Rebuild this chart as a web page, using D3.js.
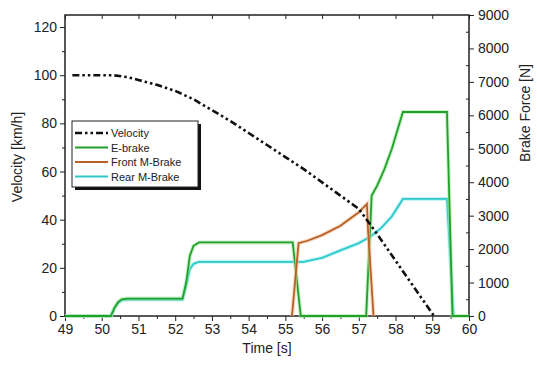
<!DOCTYPE html>
<html>
<head>
<meta charset="utf-8">
<script src="https://cdn.jsdelivr.net/npm/d3@7"></script>
<style>
  body { margin: 0; background: #fff; }
  svg { font-family: "Liberation Sans", Arial, sans-serif; }
  .axis text { fill: #222; font-size: 14px; }
  .axis path, .axis line { stroke: #222; }
</style>
</head>
<body>
<div id="chart"></div>
<script>
// values
const timeTicks = [49, 50, 51, 52, 53, 54, 55, 56, 57, 58, 59, 60];
const velocityTicks = [0, 20, 40, 60, 80, 100, 120];
const forceTicks = [0, 1000, 2000, 3000, 4000, 5000, 6000, 7000, 8000, 9000];

// velocity [km/h] vs time [s]
const velocity = [
  [49.2, 100], [50.3, 100], [50.7, 99.2], [51.0, 98], [51.5, 96], [52.0, 93.5],
  [52.5, 90], [53.0, 85.5], [53.5, 81], [54.0, 76], [54.5, 71], [55.0, 66],
  [55.5, 61], [56.0, 55.5], [56.5, 50], [57.0, 44.5], [57.5, 34], [58.0, 23],
  [58.5, 12], [59.05, 0]
];

// brake forces [N] vs time [s]
const eBrake = [
  [49, 0], [50.25, 0], [50.35, 250], [50.45, 420], [50.55, 500], [50.7, 520],
  [52.2, 520], [52.3, 1000], [52.4, 1800], [52.5, 2100], [52.65, 2200],
  [55.2, 2200], [55.42, 0], [57.2, 0], [57.35, 3600], [57.5, 3900], [57.7, 4400],
  [57.9, 5000], [58.2, 6100], [59.4, 6100], [59.55, 0], [60, 0]
];
const frontBrake = [
  [55.18, 0], [55.36, 2180], [55.6, 2250], [56.0, 2420], [56.5, 2700],
  [57.0, 3100], [57.22, 3350], [57.25, 2600], [57.4, 0]
];
const rearBrake = [
  [49, 0], [50.25, 0], [50.35, 250], [50.45, 400], [50.55, 470], [50.7, 490],
  [52.2, 490], [52.3, 900], [52.4, 1400], [52.5, 1560], [52.65, 1620],
  [55.5, 1620], [56.0, 1740], [56.5, 1960], [57.0, 2180], [57.3, 2360],
  [57.6, 2620], [57.9, 2980], [58.2, 3500], [59.4, 3500], [59.58, 0]
];

const W = 537, H = 368;
const plotL = 65, plotR = 469, plotT = 15, plotB = 316;

const svg = d3.select("#chart").append("svg")
  .attr("width", W).attr("height", H);

const x = d3.scaleLinear().domain([49, 60]).range([plotL, plotR]);
const yV = d3.scaleLinear().domain([0, 125]).range([plotB, plotT]);
const yF = d3.scaleLinear().domain([0, 9000]).range([plotB, plotT]);

// axes
const halfTimes = d3.range(49.5, 60, 1);
svg.append("g").attr("class", "axis")
  .attr("transform", `translate(0,${plotB})`)
  .call(d3.axisBottom(x).tickValues(timeTicks).tickFormat(d3.format("d")).tickSize(5).tickPadding(3));
svg.append("g").attr("class", "axis")
  .attr("transform", `translate(0,${plotB})`)
  .call(d3.axisBottom(x).tickValues(halfTimes).tickFormat("").tickSize(3));
svg.append("g").attr("class", "axis")
  .attr("transform", `translate(0,${plotT})`)
  .call(d3.axisBottom(x).tickValues(timeTicks).tickFormat("").tickSize(4));

svg.append("g").attr("class", "axis")
  .attr("transform", `translate(${plotL},0)`)
  .call(d3.axisLeft(yV).tickValues(velocityTicks).tickFormat(d3.format("d")).tickSize(5).tickPadding(3));
svg.append("g").attr("class", "axis")
  .attr("transform", `translate(${plotL},0)`)
  .call(d3.axisLeft(yV).tickValues(d3.range(10, 125, 20)).tickFormat("").tickSize(3));

svg.append("g").attr("class", "axis")
  .attr("transform", `translate(${plotR},0)`)
  .call(d3.axisRight(yF).tickValues(forceTicks).tickFormat(d3.format("d")).tickSize(5).tickPadding(4));
svg.append("g").attr("class", "axis")
  .attr("transform", `translate(${plotR},0)`)
  .call(d3.axisLeft(yF).tickValues(d3.range(500, 9000, 1000)).tickFormat("").tickSize(3));

svg.selectAll(".axis .domain").remove();

// frame
svg.append("rect")
  .attr("x", plotL).attr("y", plotT)
  .attr("width", plotR - plotL).attr("height", plotB - plotT)
  .attr("fill", "none").attr("stroke", "#222").attr("stroke-width", 1.5);

// lines
const lineF = d3.line().x(d => x(d[0])).y(d => yF(d[1]));
const lineV = d3.line().x(d => x(d[0])).y(d => yV(d[1]));

const forceSeries = [
  { data: rearBrake, color: "#2ec8cc", glow: "#9ff0f0" },
  { data: eBrake, color: "#23a02c", glow: "#a3e8a3" },
  { data: frontBrake, color: "#b8602a", glow: "#f5c49a" }
];
forceSeries.forEach(s => {
  svg.append("path").datum(s.data)
    .attr("d", lineF).attr("fill", "none")
    .attr("stroke", s.glow).attr("stroke-width", 4).attr("opacity", 0.6);
  svg.append("path").datum(s.data)
    .attr("d", lineF).attr("fill", "none")
    .attr("stroke", s.color).attr("stroke-width", 1.8);
});

svg.append("path").datum(velocity)
  .attr("d", lineV).attr("fill", "none")
  .attr("stroke", "#111").attr("stroke-width", 2.6)
  .attr("stroke-dasharray", "7,3,2.5,3,2.5,3");

// axis titles
svg.append("text")
  .attr("x", (plotL + plotR) / 2).attr("y", 353)
  .attr("text-anchor", "middle").attr("font-size", 14).attr("fill", "#222")
  .text("Time [s]");
svg.append("text")
  .attr("transform", "translate(22,157) rotate(-90)")
  .attr("text-anchor", "middle").attr("font-size", 14).attr("fill", "#222")
  .text("Velocity [km/h]");
svg.append("text")
  .attr("transform", "translate(530,113) rotate(-90)")
  .attr("text-anchor", "middle").attr("font-size", 14).attr("fill", "#222")
  .text("Brake Force [N]");

// legend
const legendItems = [
  { name: "Velocity", color: "#111", dash: "7,3,2.5,3,2.5,3", width: 2.6 },
  { name: "E-brake", color: "#23a02c", dash: null, width: 1.8 },
  { name: "Front M-Brake", color: "#b8602a", dash: null, width: 1.8 },
  { name: "Rear M-Brake", color: "#2ec8cc", dash: null, width: 1.8 }
];
const lg = svg.append("g").attr("transform", "translate(72,121)");
lg.append("rect").attr("x", 3).attr("y", 3).attr("width", 126).attr("height", 66).attr("fill", "#111");
lg.append("rect").attr("x", 0).attr("y", 0).attr("width", 126).attr("height", 66)
  .attr("fill", "#fff").attr("stroke", "#222").attr("stroke-width", 1);
legendItems.forEach((it, i) => {
  const yy = 12 + i * 14.5;
  lg.append("line").attr("x1", 3).attr("x2", 36).attr("y1", yy).attr("y2", yy)
    .attr("stroke", it.color).attr("stroke-width", it.width)
    .attr("stroke-dasharray", it.dash);
  lg.append("text").attr("x", 39).attr("y", yy + 4)
    .attr("font-size", 11).attr("fill", "#222").text(it.name);
});
</script>
</body>
</html>
